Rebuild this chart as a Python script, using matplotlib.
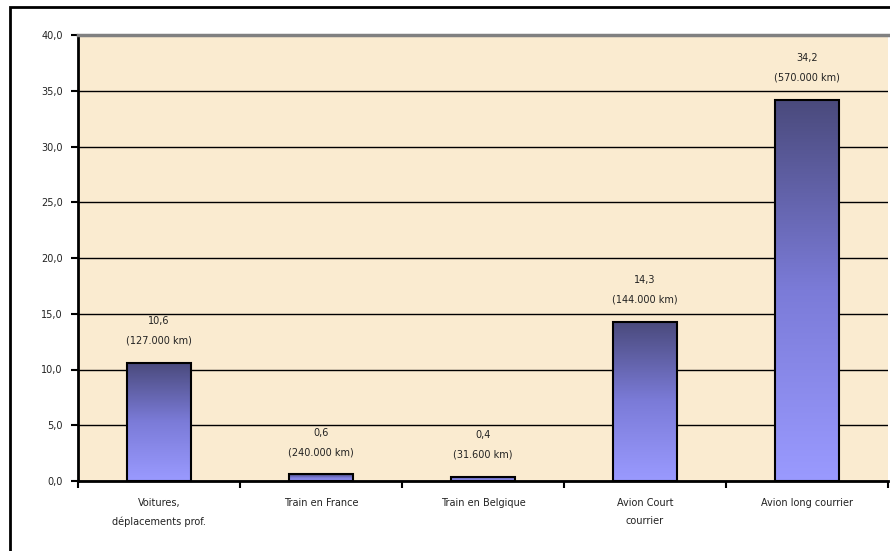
import numpy as np
import matplotlib
matplotlib.use("Agg")
import matplotlib.pyplot as plt
from matplotlib.patches import Rectangle
from matplotlib.colors import LinearSegmentedColormap

categories = ["Voitures,\ndéplacements prof.", "Train en France", "Train en Belgique",
              "Avion Court\ncourrier", "Avion long courrier"]
values = [10.6, 0.6, 0.4, 14.3, 34.2]
value_labels = ["10,6", "0,6", "0,4", "14,3", "34,2"]
km_labels = ["(127.000 km)", "(240.000 km)", "(31.600 km)", "(144.000 km)", "(570.000 km)"]
yticks = [0, 5, 10, 15, 20, 25, 30, 35, 40]

fig = plt.figure(figsize=(8.9, 5.51), dpi=100)
fig.patch.set_facecolor("white")
ax = fig.add_axes([78/890, 70/551, 810/890, 446/551])
ax.set_facecolor("#FAEBD0")

# outer chart frame
fig.patches.append(Rectangle((10/890, -0.05), 1.2, 1 - 7/551 + 0.05, transform=fig.transFigure,
                             fill=False, edgecolor="black", linewidth=2))

x = np.arange(len(values))
bars = ax.bar(x, values, width=0.395, color="none", edgecolor="black", linewidth=1.5, zorder=4)

# vertical gradient in each bar, dark at top
cmap = LinearSegmentedColormap.from_list("bargrad", ["#9A9AFF", "#7B7BD8", "#4A4A7C"])
grad = np.linspace(0, 1, 256).reshape(-1, 1)
for b in bars:
    x0, w, h = b.get_x(), b.get_width(), b.get_height()
    ax.imshow(grad, cmap=cmap, aspect="auto", origin="lower",
              extent=[x0, x0 + w, 0, h], zorder=3)

for xi, v, vl, kl in zip(x, values, value_labels, km_labels):
    ax.annotate(kl, (xi, v), xytext=(0, 16), textcoords="offset points",
                ha="center", va="center", fontsize=7, color="#222222")
    ax.annotate(vl, (xi, v), xytext=(0, 30), textcoords="offset points",
                ha="center", va="center", fontsize=7, color="#222222")

ax.set_xlim(-0.5, 4.5)
ax.set_ylim(0, 40)
ax.set_yticks(yticks)
ax.set_yticklabels(["%d,0" % t for t in yticks], fontsize=7, color="#222222")
ax.yaxis.grid(True, color="black", linewidth=1)
ax.set_axisbelow(True)

ax.set_xticks(np.arange(-0.5, 5.0, 1.0))
ax.set_xticklabels([])
ax.set_xticks(x, minor=True)
ax.set_xticklabels(categories, minor=True, fontsize=7, color="#222222", linespacing=2.0)
ax.tick_params(axis="x", which="minor", length=0, pad=12)
ax.tick_params(axis="x", which="major", length=5, width=1.5, direction="out")
ax.tick_params(axis="y", length=5, width=1.5, direction="out", pad=6)

ax.spines["top"].set_color("#808080")
ax.spines["top"].set_linewidth(2.5)
ax.spines["left"].set_linewidth(2)
ax.spines["bottom"].set_linewidth(2)
ax.spines["right"].set_visible(False)

fig.savefig("out.png", dpi=100)
